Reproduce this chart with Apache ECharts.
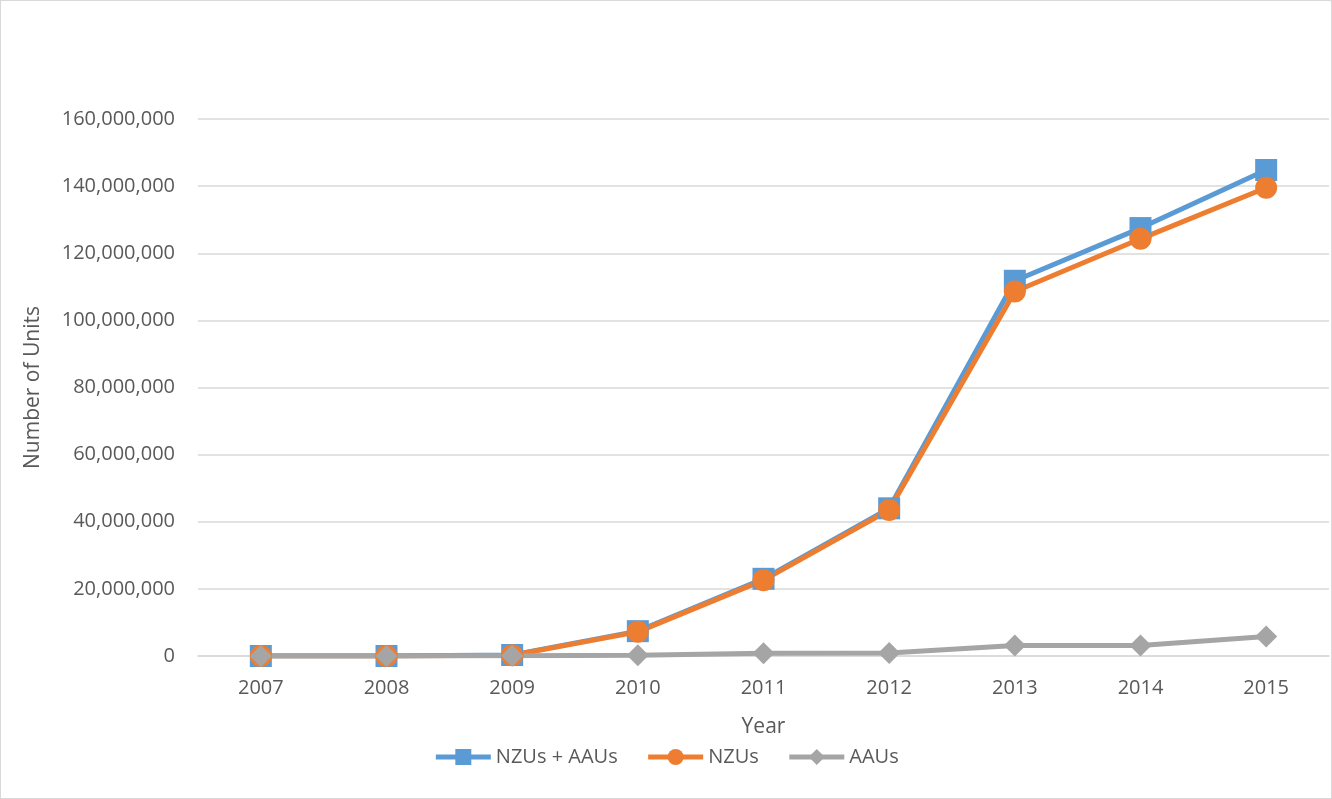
<!DOCTYPE html>
<html lang="en">
<head>
    <meta charset="UTF-8">
    <title>Number of Units</title>
    <script src="https://cdn.jsdelivr.net/npm/echarts@6/dist/echarts.min.js"></script>
    <style>
        html, body { margin: 0; padding: 0; background: #fff; }
        #chart_box {
            width: 1330px;
            height: 797px;
            border: 1px solid #d9d9d9;
        }
    </style>
</head>
<body>
    <div id="chart_box"></div>
    <script>
        // 数据
        const years = ['2007', '2008', '2009', '2010', '2011', '2012', '2013', '2014', '2015'];
        const nzusAaus = [0, 0, 300000, 7400000, 23000000, 44000000, 111800000, 127500000, 144800000];
        const nzus = [0, 0, 200000, 7200000, 22600000, 43500000, 108600000, 124300000, 139500000];
        const aaus = [0, 0, 100000, 200000, 800000, 900000, 3100000, 3100000, 5800000];

        const textColor = '#595959';
        const fontName = 'Open Sans';

        let myEchart = echarts.init(document.querySelector('#chart_box'));
        let option = {
            animation: false,
            textStyle: { fontFamily: fontName, color: textColor },
            grid: {
                left: 197,
                right: 2,
                top: 118,
                bottom: 142
            },
            legend: {
                bottom: 26,
                left: 'center',
                itemWidth: 55,
                itemHeight: 20,
                itemGap: 28,
                lineStyle: { width: 5 },
                textStyle: { fontSize: 20, color: textColor, fontFamily: fontName },
                data: ['NZUs + AAUs', 'NZUs', 'AAUs']
            },
            xAxis: {
                type: 'category',
                data: years,
                name: 'Year',
                nameLocation: 'middle',
                nameGap: 61,
                nameTextStyle: { fontSize: 21, color: textColor },
                axisLine: { lineStyle: { color: '#d9d9d9', width: 1.5 } },
                axisTick: { show: false },
                axisLabel: { fontSize: 20, color: textColor, margin: 22 }
            },
            yAxis: {
                type: 'value',
                min: 0,
                max: 160000000,
                interval: 20000000,
                name: 'Number of Units',
                nameLocation: 'middle',
                nameGap: 154,
                nameTextStyle: { fontSize: 21, color: textColor },
                axisLine: { show: false },
                axisTick: { show: false },
                splitLine: { lineStyle: { color: '#d9d9d9', width: 1.5 } },
                axisLabel: {
                    fontSize: 20,
                    color: textColor,
                    margin: 23,
                    formatter: v => v.toLocaleString('en-US')
                }
            },
            series: [
                {
                    name: 'NZUs + AAUs',
                    type: 'line',
                    data: nzusAaus,
                    symbol: 'rect',
                    symbolSize: 22,
                    color: '#5b9bd5',
                    lineStyle: { width: 5, color: '#5b9bd5' },
                    itemStyle: { color: '#5b9bd5' }
                },
                {
                    name: 'NZUs',
                    type: 'line',
                    data: nzus,
                    symbol: 'circle',
                    symbolSize: 22,
                    color: '#ed7d31',
                    lineStyle: { width: 5, color: '#ed7d31' },
                    itemStyle: { color: '#ed7d31' }
                },
                {
                    name: 'AAUs',
                    type: 'line',
                    data: aaus,
                    symbol: 'diamond',
                    symbolSize: 22,
                    color: '#a5a5a5',
                    lineStyle: { width: 5, color: '#a5a5a5' },
                    itemStyle: { color: '#a5a5a5' }
                }
            ]
        };
        myEchart.setOption(option);
    </script>
</body>
</html>
